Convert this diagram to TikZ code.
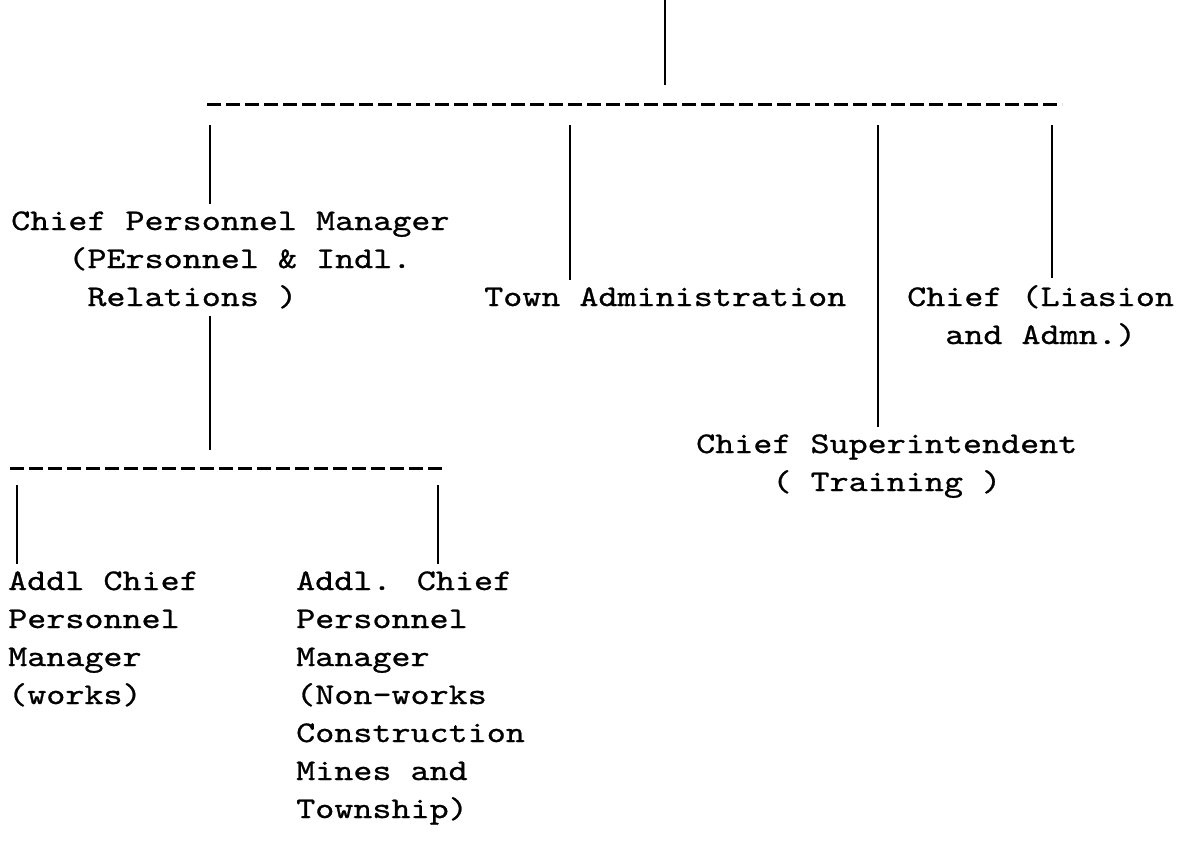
\documentclass[tikz,border=0pt]{standalone}
\usepackage{fontspec}
\usepackage{tikz}
\newfontfamily\typefont[FakeStretch=1.21,FakeBold=0.8]{lmmono10-regular.otf}

\begin{document}
\begin{tikzpicture}[x=1pt,y=-1pt,
	unit/.style={font=\typefont\fontsize{30pt}{38pt}\selectfont, align=left, anchor=base west, inner xsep=0pt, inner ysep=7pt},
	link/.style={line width=2pt},
	bus/.style={line width=3pt, dash pattern=on 14pt off 5pt}]
		%%%%% START %%%%%
		\useasboundingbox (0,0) rectangle (1198,863);
		
		% top line and first bus
		\coordinate (root) at (665,0);
		\coordinate (rootend) at (665,85);
		\draw[link] (root) -- (rootend);
		\coordinate (busA) at (207,104);
		\coordinate (busB) at (1062,104);
		\draw[bus] (busA) -- (busB);
		
		% second row (nodes sit on the baseline of their last line)
		\node[unit] (cpm) at (11,306) {Chief Personnel Manager\\\phantom{xxx}(PErsonnel \& Indl.\\\phantom{xxxx}Relations )};
		\node[unit] (town) at (484,306) {Town Administration};
		\node[unit] (liaison) at (907,344) {Chief (Liasion\\\phantom{xx}and Admn.)};
		\node[unit] (training) at (696,491) {Chief Superintendent\\\phantom{xxxx}( Training )};
		
		\coordinate (dropA) at (210,125);
		\coordinate (dropB) at (570,125);
		\coordinate (dropC) at (878,125);
		\coordinate (dropD) at (1052,125);
		\draw[link] (dropA) -- (dropA |- cpm.north);
		\draw[link] (dropB) -- (dropB |- town.north);
		\draw[link] (dropC) -- (dropC |- training.north);
		\draw[link] (dropD) -- (dropD |- liaison.north);
		
		% second bus
		\coordinate (cpmend) at (210,450);
		\draw[link] (cpm.south -| cpmend) -- (cpmend);
		\coordinate (busC) at (10,468);
		\coordinate (busD) at (445,468);
		\draw[bus] (busC) -- (busD);
		
		% third row
		\node[unit] (works) at (8,704) {Addl Chief\\Personnel\\Manager\\(works)};
		\node[unit] (nonworks) at (296,818) {Addl. Chief\\Personnel\\Manager\\(Non-works\\Construction\\Mines and\\Township)};
		
		\coordinate (dropE) at (17,485);
		\coordinate (dropF) at (438,485);
		\draw[link] (dropE) -- (dropE |- works.north);
		\draw[link] (dropF) -- (dropF |- nonworks.north);
		
		%%%%% END %%%%%
\end{tikzpicture}
\end{document}
